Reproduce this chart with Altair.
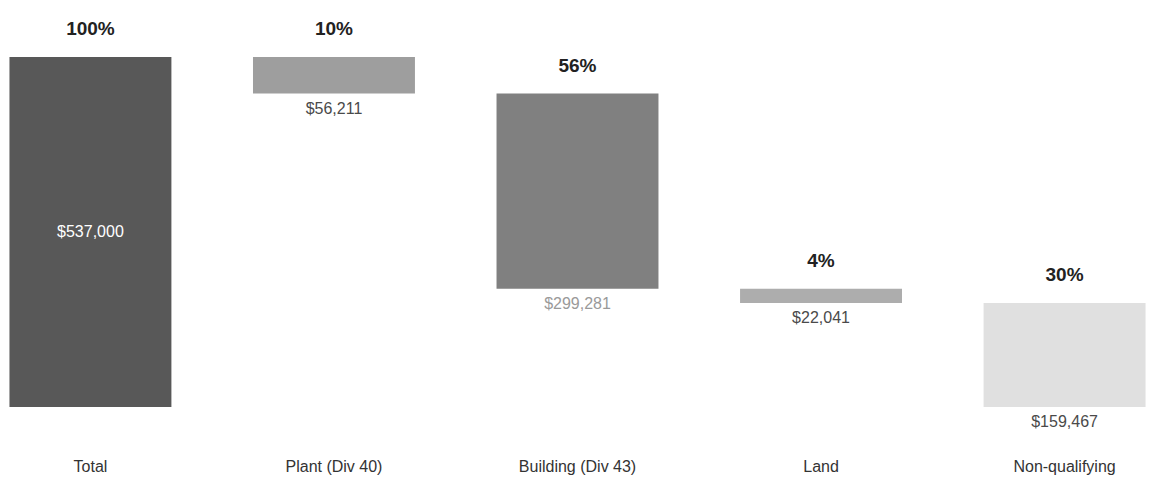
import altair as alt
import pandas as pd

categories = ["Total", "Plant (Div 40)", "Building (Div 43)", "Land", "Non-qualifying"]
amounts = [537000, 56211, 299281, 22041, 159467]
percents = ["100%", "10%", "56%", "4%", "30%"]
value_labels = ["$537,000", "$56,211", "$299,281", "$22,041", "$159,467"]
bar_colors = ["#585858", "#9e9e9e", "#808080", "#adadad", "#e0e0e0"]

total = amounts[0]
starts, ends = [], []
running = total
for i, a in enumerate(amounts):
    if i == 0:
        starts.append(0)
        ends.append(total)
    else:
        ends.append(running)
        running -= a
        starts.append(running)

df = pd.DataFrame({
    "category": categories,
    "amount": amounts,
    "start": starts,
    "end": ends,
    "mid": [(s + e) / 2 for s, e in zip(starts, ends)],
    "pct": percents,
    "vlabel": value_labels,
    "color": bar_colors,
})

FONT = "Liberation Sans"

x = alt.X("category:N", sort=categories,
          scale=alt.Scale(paddingInner=0.335, paddingOuter=0.006),
          axis=alt.Axis(title=None, domain=False, ticks=False, labelAngle=0,
                        labelPadding=51, labelFontSize=16, labelColor="#333333",
                        labelFont=FONT, grid=False))
yscale = alt.Scale(domain=[0, 612000], nice=False, zero=True)

base = alt.Chart(df)

bars = base.mark_bar().encode(
    x=x,
    y=alt.Y("start:Q", scale=yscale, axis=None),
    y2="end:Q",
    color=alt.Color("color:N", scale=None),
)

pct_text = base.mark_text(dy=-28, fontSize=19, fontWeight="bold", font=FONT,
                          color="#222222", baseline="middle").encode(
    x=x,
    y=alt.Y("end:Q", scale=yscale),
    text="pct:N",
)

val_text = base.transform_filter(alt.datum.category != "Total").mark_text(
    dy=15, fontSize=16, font=FONT, baseline="middle").encode(
    x=x,
    y=alt.Y("start:Q", scale=yscale),
    text="vlabel:N",
    color=alt.condition(alt.datum.category == "Building (Div 43)",
                        alt.value("#9a9a9a"), alt.value("#4a4a4a")),
)

total_text = base.transform_filter(alt.datum.category == "Total").mark_text(
    fontSize=16, font=FONT, color="#ffffff", baseline="middle").encode(
    x=x,
    y=alt.Y("mid:Q", scale=yscale),
    text="vlabel:N",
)

chart = alt.layer(bars, pct_text, val_text, total_text).properties(
    width=1139, height=399,
    padding={"left": 0, "top": 0, "right": 0, "bottom": 4},
    background="white"
).configure_view(strokeWidth=0)

chart.save("out.html", embed_options={"renderer": "svg", "actions": False})
